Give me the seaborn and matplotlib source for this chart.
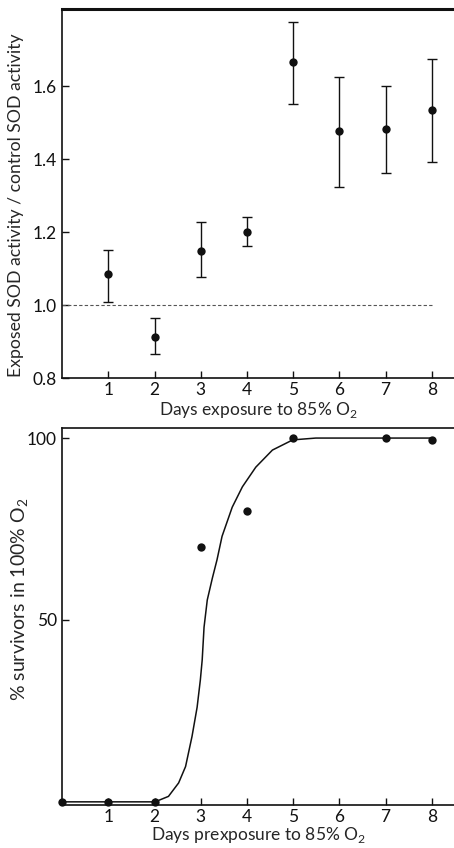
import matplotlib
matplotlib.use('Agg')
import matplotlib.pyplot as plt
import seaborn as sns
import pandas as pd

# Top panel: SOD activity ratio vs days exposure
days = [1, 2, 3, 4, 5, 6, 7, 8]
sod_ratio = [1.085, 0.912, 1.148, 1.200, 1.666, 1.477, 1.482, 1.534]
sod_err_hi = [1.151, 0.964, 1.228, 1.241, 1.775, 1.625, 1.600, 1.674]
sod_err_lo = [1.008, 0.866, 1.077, 1.162, 1.550, 1.323, 1.362, 1.392]
control_level = 1.0

# Bottom panel: survivors vs days prexposure
surv_days = [0, 1, 2, 3, 4, 5, 7, 8]
surv_pct = [0, 0, 0, 70, 80, 100, 100, 99.5]

# hand-drawn fitted curve
curve_x = [0, 1, 2.01, 2.30, 2.52, 2.67, 2.81, 2.92, 2.99, 3.03, 3.07,
           3.14, 3.25, 3.35, 3.46, 3.68, 3.90, 4.19, 4.55, 4.99, 5.49,
           6, 7, 8]
curve_y = [0, 0, 0, 1.5, 5.2, 9.7, 18, 26, 33.5, 39, 48,
           55.5, 61.5, 66.5, 73, 81, 86.6, 92, 96.7, 99.5, 100,
           100, 100, 100]

sns.set_theme(style='ticks')
plt.rcParams['font.family'] = ['Lato', 'DejaVu Sans']
plt.rcParams['mathtext.fontset'] = 'custom'
plt.rcParams['mathtext.rm'] = 'Lato'

fig = plt.figure(figsize=(4.54, 8.48), dpi=100)
ax1 = fig.add_axes([0.137, 0.554, 0.863, 0.435])
ax2 = fig.add_axes([0.137, 0.051, 0.863, 0.444])

black = '#111111'

# ---- top panel ----
top = pd.DataFrame({'day': days, 'ratio': sod_ratio})
yerr = [[r - lo for r, lo in zip(sod_ratio, sod_err_lo)],
        [hi - r for r, hi in zip(sod_ratio, sod_err_hi)]]
ax1.errorbar(days, sod_ratio, yerr=yerr, fmt='none', ecolor=black,
             elinewidth=1.0, capsize=3.5, capthick=1.0)
sns.scatterplot(data=top, x='day', y='ratio', ax=ax1, color=black,
                s=36, linewidth=0, zorder=3)
ax1.hlines(control_level, 0, 8, colors='#555555', linestyles=(0, (3, 2)),
           linewidth=0.8)

ax1.set_xlim(0, 8.48)
ax1.set_ylim(0.8, 1.81)
ax1.set_xticks(days)
ax1.set_xticklabels([str(d) for d in days])
ax1.set_yticks([0.8, 1.0, 1.2, 1.4, 1.6])
ax1.set_yticklabels(['0.8', '1.0', '1.2', '1.4', '1.6'])
ax1.set_xlabel('Days exposure to 85% O$_2$', fontsize=12.5, labelpad=1)
ax1.set_ylabel('Exposed SOD activity / control SOD activity', fontsize=12.7)
ax1.yaxis.set_label_coords(-0.097, 0.47)
for side in ['left', 'bottom']:
    ax1.spines[side].set_linewidth(1.2)
    ax1.spines[side].set_color(black)
ax1.spines['top'].set_linewidth(2.2)
ax1.spines['top'].set_color(black)
ax1.spines['right'].set_visible(False)

# ---- bottom panel ----
curve = pd.DataFrame({'day': curve_x, 'pct': curve_y})
pts = pd.DataFrame({'day': surv_days, 'pct': surv_pct})
sns.lineplot(data=curve, x='day', y='pct', ax=ax2, color=black,
             linewidth=1.1, sort=False)
sns.scatterplot(data=pts, x='day', y='pct', ax=ax2, color=black,
                s=36, linewidth=0, zorder=3, clip_on=False)

ax2.set_xlim(0, 8.48)
ax2.set_ylim(-0.8, 102.7)
ax2.set_xticks(days)
ax2.set_xticklabels([str(d) for d in days])
ax2.set_yticks([50, 100])
ax2.set_yticklabels(['50', '100'])
ax2.set_xlabel('Days prexposure to 85% O$_2$', fontsize=12.5, labelpad=0)
ax2.set_ylabel('% survivors in 100% O$_2$', fontsize=14)
ax2.yaxis.set_label_coords(-0.08, 0.546)
for side in ['left', 'bottom', 'top']:
    ax2.spines[side].set_linewidth(1.2)
    ax2.spines[side].set_color(black)
ax2.spines['right'].set_visible(False)

for ax in (ax1, ax2):
    ax.tick_params(direction='in', length=5, width=1.0, colors=black,
                   labelsize=12.5, pad=4)
    ax.tick_params(axis='x', pad=3)
    ax.tick_params(top=False, right=False)

fig.savefig('out.png', dpi=100)
plt.close(fig)
